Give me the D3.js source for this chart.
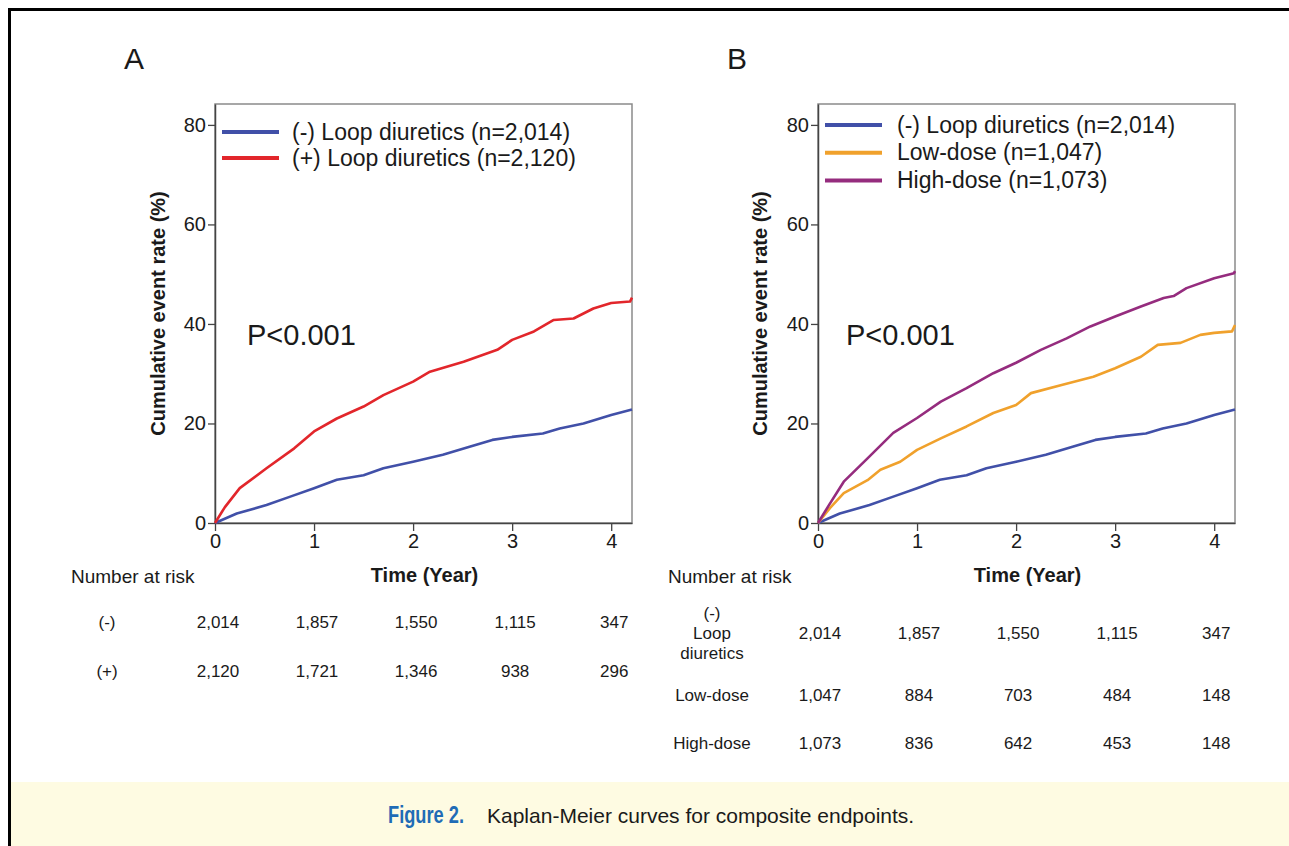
<!DOCTYPE html>
<html>
<head>
<meta charset="utf-8">
<title>Kaplan-Meier curves</title>
<script src="https://cdn.jsdelivr.net/npm/d3@7"></script>
<style>
  body { margin: 0; background: #fff; }
  svg text { font-family: "Liberation Sans", Arial, sans-serif; fill: #1a1a1a; }
</style>
</head>
<body>
<script>
// curve readings (year, cumulative event %)
const tNone   = [0, 0.22, 0.52, 0.76, 1.0, 1.23, 1.5, 1.7, 2.0, 2.3, 2.57, 2.8, 3.0, 3.31, 3.48, 3.72, 4.0, 4.21];
const pctNone = [0, 1.9, 3.6, 5.3, 7.0, 8.7, 9.6, 11.0, 12.3, 13.7, 15.3, 16.7, 17.3, 18.0, 19.0, 20.0, 21.7, 22.8];

const tPlus   = [0, 0.1, 0.25, 0.52, 0.8, 1.0, 1.23, 1.5, 1.7, 2.0, 2.17, 2.51, 2.85, 3.0, 3.22, 3.42, 3.62, 3.82, 4.0, 4.19, 4.21];
const pctPlus = [0, 3.2, 7.0, 11.0, 15.0, 18.4, 21.0, 23.4, 25.7, 28.4, 30.4, 32.4, 34.8, 36.8, 38.5, 40.8, 41.1, 43.1, 44.2, 44.5, 45.3];

const tLow    = [0, 0.12, 0.26, 0.5, 0.63, 0.83, 1.0, 1.24, 1.5, 1.77, 2.0, 2.15, 2.45, 2.78, 3.0, 3.26, 3.43, 3.66, 3.86, 4.0, 4.18, 4.21];
const pctLow  = [0, 3.0, 6.0, 8.6, 10.7, 12.3, 14.7, 17.0, 19.4, 22.1, 23.7, 26.1, 27.7, 29.4, 31.1, 33.4, 35.8, 36.2, 37.8, 38.2, 38.5, 39.8];

const tHigh   = [0, 0.12, 0.26, 0.5, 0.76, 1.0, 1.24, 1.5, 1.77, 2.0, 2.25, 2.51, 2.75, 3.0, 3.26, 3.49, 3.59, 3.72, 4.0, 4.2, 4.21];
const pctHigh = [0, 3.9, 8.3, 13.0, 18.1, 21.1, 24.4, 27.1, 30.1, 32.2, 34.8, 37.1, 39.5, 41.5, 43.5, 45.2, 45.6, 47.2, 49.2, 50.2, 50.6];

// number at risk
const riskYears = [0, 1, 2, 3, 4];
const riskNone  = [2014, 1857, 1550, 1115, 347];
const riskPlus  = [2120, 1721, 1346, 938, 296];
const riskLow   = [1047, 884, 703, 484, 148];
const riskHigh  = [1073, 836, 642, 453, 148];

const yTicks = [0, 20, 40, 60, 80];
const xTicks = [0, 1, 2, 3, 4];

const colNone = "#4150a8", colPlus = "#e2262b", colLow = "#f0a12c", colHigh = "#952c7e";

const W = 1289, H = 846;
const pw = 417, ph = 419;
const fmt = d3.format(",");

const svg = d3.select("body").append("svg")
    .attr("width", W)
    .attr("height", H);

// caption band + frame
svg.append("rect").attr("x", 11).attr("y", 782).attr("width", W - 11).attr("height", H - 782)
    .attr("fill", "#fefbe2");
svg.append("path").attr("d", `M9.5,${H} V9.5 H${W}`)
    .attr("fill", "none").attr("stroke", "#000").attr("stroke-width", 3);

const cap = svg.append("text").attr("x", 388).attr("y", 823).style("font-size", "21px");
cap.append("tspan").style("fill", "#1f6cb6")
    .style("font-weight", "bold").style("font-size", "23px")
    .attr("textLength", 76).attr("lengthAdjust", "spacingAndGlyphs")
    .text("Figure 2.");
cap.append("tspan").attr("x", 487).text("Kaplan-Meier curves for composite endpoints.");

function zip(t, v) { return t.map((d, i) => [d, v[i]]); }

function drawPanel(cfg) {
  const g = svg.append("g").attr("transform", `translate(${cfg.left},104)`);
  const x = d3.scaleLinear().domain([0, 4.21]).range([0, pw]);
  const y = d3.scaleLinear().domain([0, 84.2]).range([ph, 0]);

  svg.append("text").attr("x", cfg.left - 91).attr("y", 69)
      .style("font-size", "30px").text(cfg.letter);

  // frame
  g.append("rect").attr("width", pw).attr("height", ph)
      .attr("fill", "none").attr("stroke", "#8a8a8a").attr("stroke-width", 1.5);

  const ya = g.append("g")
      .call(d3.axisLeft(y).tickValues(yTicks).tickSize(7).tickSizeOuter(0).tickPadding(2));
  const xa = g.append("g").attr("transform", `translate(0,${ph})`)
      .call(d3.axisBottom(x).tickValues(xTicks).tickFormat(d3.format("d"))
        .tickSize(8).tickSizeOuter(0).tickPadding(3));
  [ya, xa].forEach(a => {
    a.select(".domain").attr("stroke", "#444").attr("stroke-width", 1.5);
    a.selectAll(".tick line").attr("stroke", "#444").attr("stroke-width", 1.3);
    a.selectAll(".tick text").style("font-size", "20px").attr("fill", "#1a1a1a");
  });

  g.append("text")
      .attr("transform", `translate(${cfg.ylabX},${ph / 2}) rotate(-90)`)
      .attr("text-anchor", "middle").style("font-size", "20px").style("font-weight", "bold")
      .text("Cumulative event rate (%)");

  g.append("text").attr("x", pw / 2 + 1).attr("y", 478)
      .attr("text-anchor", "middle").style("font-size", "20px").style("font-weight", "bold")
      .text("Time (Year)");

  g.append("text").attr("x", cfg.pX).attr("y", 241)
      .style("font-size", "29px").text("P<0.001");

  const line = d3.line().x(d => x(d[0])).y(d => y(d[1]));
  cfg.series.forEach(s => {
    g.append("path").datum(zip(s.t, s.v))
        .attr("d", line).attr("fill", "none")
        .attr("stroke", s.color).attr("stroke-width", 2.6)
        .attr("stroke-linejoin", "round");
  });

  // legend
  cfg.series.forEach((s, i) => {
    const ly = cfg.legY + i * cfg.legStep;
    g.append("line").attr("x1", 7).attr("x2", 64).attr("y1", ly).attr("y2", ly)
        .attr("stroke", s.color).attr("stroke-width", 4);
    g.append("text").attr("x", cfg.legTextX).attr("y", ly + 7.5)
        .style("font-size", "23px").text(s.label);
  });

  // number at risk
  g.append("text").attr("x", cfg.nrX).attr("y", 479)
      .style("font-size", "19px").text("Number at risk");
  cfg.risk.forEach(r => {
    const lab = g.append("text").attr("x", cfg.rowLabX).attr("y", r.y)
        .attr("text-anchor", "middle").style("font-size", "17px");
    const n = r.label.length;
    r.label.forEach((t, k) => {
      lab.append("tspan").attr("x", cfg.rowLabX).attr("y", r.y + (k - (n - 1) / 2) * 20)
          .text(t);
    });
    g.selectAll(null).data(riskYears).enter().append("text")
        .attr("x", d => x(d) + cfg.numDx)
        .attr("y", r.y)
        .attr("text-anchor", "middle").style("font-size", "17px")
        .text((d, i) => fmt(r.values[i]));
  });
}

drawPanel({
  left: 215, letter: "A", ylabX: -50, pX: 32, legY: 28, legStep: 26, legTextX: 77,
  nrX: -144, rowLabX: -108, numDx: 3,
  series: [
    {t: tNone, v: pctNone, color: colNone, label: "(-) Loop diuretics (n=2,014)"},
    {t: tPlus, v: pctPlus, color: colPlus, label: "(+) Loop diuretics (n=2,120)"}
  ],
  risk: [
    {label: ["(-)"], values: riskNone, y: 524},
    {label: ["(+)"], values: riskPlus, y: 572.5}
  ]
});

drawPanel({
  left: 818, letter: "B", ylabX: -51, pX: 28, legY: 21, legStep: 27.8, legTextX: 79,
  nrX: -150, rowLabX: -106, numDx: 2,
  series: [
    {t: tNone, v: pctNone, color: colNone, label: "(-) Loop diuretics (n=2,014)"},
    {t: tLow, v: pctLow, color: colLow, label: "Low-dose (n=1,047)"},
    {t: tHigh, v: pctHigh, color: colHigh, label: "High-dose (n=1,073)"}
  ],
  risk: [
    {label: ["(-)", "Loop", "diuretics"], values: riskNone, y: 535},
    {label: ["Low-dose"], values: riskLow, y: 596.5},
    {label: ["High-dose"], values: riskHigh, y: 645}
  ]
});
</script>
</body>
</html>
